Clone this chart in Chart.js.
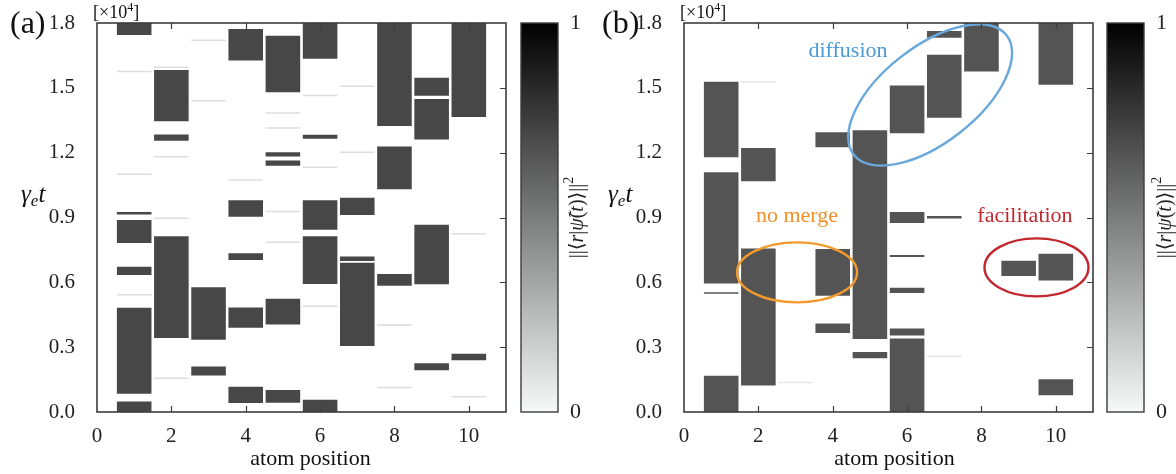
<!DOCTYPE html>
<html>
<head>
<meta charset="utf-8">
<script src="https://cdn.jsdelivr.net/npm/chart.js@4.4.0/dist/chart.umd.min.js"></script>
<style>
  body { margin: 0; background: #fff; width: 1176px; height: 474px; overflow: hidden; position: relative; }
  canvas { position: absolute; top: 0; }
  #chartA { left: 0; }
  #chartB { left: 590px; }
</style>
</head>
<body>
<canvas id="chartA" width="590" height="474"></canvas>
<canvas id="chartB" width="586" height="474"></canvas>
<script>
const ticksY = [0, 0.3, 0.6, 0.9, 1.2, 1.5, 1.8];
const ticksX = [0, 2, 4, 6, 8, 10];

// (a) dark blocks: atom position, start / end of the block in gamma_e t [x10^4]
const posA  = [1,1,1,1,1,1, 2,2,2, 3,3, 4,4,4,4,4, 5,5,5,5,5, 6,6,6,6,6, 7,7,7, 8,8,8, 9,9,9,9, 10,10];
const fromA = [1.745,0.914,0.782,0.634,0.085,0, 1.345,1.255,0.342, 0.334,0.169, 1.626,0.904,0.703,0.390,0.042,
               1.480,1.182,1.139,0.405,0.043, 1.635,1.264,0.843,0.592,0, 0.912,0.699,0.305, 1.323,1.031,0.584,
               1.463,1.261,0.591,0.193, 1.365,0.240];
const toA   = [1.8,0.926,0.889,0.672,0.482,0.049, 1.582,1.284,0.813, 0.577,0.210, 1.772,0.980,0.734,0.484,0.117,
               1.741,1.202,1.164,0.524,0.102, 1.8,1.283,0.980,0.813,0.057, 0.991,0.719,0.691, 1.8,1.229,0.638,
               1.547,1.448,0.867,0.226, 1.8,0.269];
// (a) faint traces
const faintPosA = [1,1,1, 2,2,2,2, 3,3, 4, 5,5,5,5, 6,6,6, 7,7, 8,8, 10,10];
const faintAtA  = [1.100,1.576,0.543, 1.595,1.181,0.897,0.156, 1.720,1.440, 1.073, 0.928,1.383,1.314,0.785,
                   1.465,1.133,0.489, 1.202,1.507, 0.402,0.113, 0.825,0.071];

// (b) dark blocks
const posB  = [1,1,1,1, 2,2, 4,4,4, 5,5, 6,6,6,6,6,6, 7,7,7, 8, 9, 10,10,10];
const fromB = [1.179,0.595,0.547,0, 1.068,0.123, 1.225,0.538,0.365, 0.338,0.249,
               1.290,0.875,0.717,0.551,0.354,0, 1.732,1.361,0.895, 1.576, 0.629, 1.514,0.609,0.077];
const toB   = [1.528,1.109,0.554,0.168, 1.222,0.757, 1.295,0.754,0.409, 1.304,0.278,
               1.511,0.925,0.727,0.575,0.386,0.340, 1.763,1.653,0.907, 1.8, 0.700, 1.8,0.732,0.152];
const faintPosB = [2, 3, 7];
const faintAtB  = [1.527, 0.137, 0.258];

// (b) annotations: label, colour, text anchor and ellipse centre in data units
const notesB = [
  { text: 'diffusion',    color: '#4a9ad4', edge: '#6aa8dc', tx: 4.41, ty: 1.643, ex: 6.62, ey: 1.467, rx: 97, ry: 48, rot: -38 },
  { text: 'no merge',     color: '#f0912a', edge: '#f39a2c', tx: 3.04, ty: 0.877, ex: 3.04, ey: 0.646, rx: 60, ry: 30, rot: 0 },
  { text: 'facilitation', color: '#c0282e', edge: '#c1272d', tx: 9.17, ty: 0.877, ex: 9.48, ey: 0.669, rx: 52, ry: 29, rot: 0 }
];

const SERIF = '"Liberation Serif", "DejaVu Serif", serif';
const faintHalf = 0.0035;

function drawRuns(ctx, x, y, parts) {
  let cx = x;
  parts.forEach(([t, f, dy]) => {
    ctx.font = f;
    ctx.fillText(t, cx, y + (dy || 0));
    cx += ctx.measureText(t).width;
  });
  return cx - x;
}
function runsWidth(ctx, parts) {
  let w = 0;
  parts.forEach(([t, f]) => { ctx.font = f; w += ctx.measureText(t).width; });
  return w;
}

const decor = {
  id: 'decor',
  afterDatasetsDraw(chart, args, o) {
    const { ctx, chartArea: a, scales: { x, y } } = chart;
    ctx.save();

    // annotations
    (o.notes || []).forEach(n => {
      ctx.strokeStyle = n.edge;
      ctx.lineWidth = 2.4;
      ctx.beginPath();
      ctx.ellipse(x.getPixelForValue(n.ex), y.getPixelForValue(n.ey), n.rx, n.ry, n.rot * Math.PI / 180, 0, Math.PI * 2);
      ctx.stroke();
      ctx.fillStyle = n.color;
      ctx.font = '22px ' + SERIF;
      ctx.textAlign = 'center';
      ctx.textBaseline = 'alphabetic';
      ctx.fillText(n.text, x.getPixelForValue(n.tx), y.getPixelForValue(n.ty));
    });

    // frame and inward ticks
    ctx.strokeStyle = '#3c3c3c';
    ctx.lineWidth = 1.6;
    ctx.strokeRect(a.left, a.top, a.right - a.left, a.bottom - a.top);
    ctx.lineWidth = 1.2;
    ctx.beginPath();
    ticksX.forEach(v => {
      if (v === 0) return;
      const px = Math.round(x.getPixelForValue(v)) + 0.5;
      ctx.moveTo(px, a.bottom); ctx.lineTo(px, a.bottom - 6);
      ctx.moveTo(px, a.top); ctx.lineTo(px, a.top + 6);
    });
    ticksY.forEach(v => {
      if (v === 0 || v === 1.8) return;
      const py = Math.round(y.getPixelForValue(v)) + 0.5;
      ctx.moveTo(a.right, py); ctx.lineTo(a.right - 6, py);
    });
    ctx.stroke();

    // colour bar
    const cbL = a.right + o.cbGap, cbW = 37;
    const g = ctx.createLinearGradient(0, a.bottom, 0, a.top);
    g.addColorStop(0, '#f7f8f8');
    g.addColorStop(1, '#000000');
    ctx.fillStyle = g;
    ctx.fillRect(cbL, a.top, cbW, a.bottom - a.top);
    ctx.strokeStyle = '#3c3c3c';
    ctx.lineWidth = 1.4;
    ctx.strokeRect(cbL, a.top, cbW, a.bottom - a.top);
    ctx.fillStyle = '#222';
    ctx.font = '22px ' + SERIF;
    ctx.textAlign = 'left';
    ctx.textBaseline = 'middle';
    ctx.fillText('1', cbL + cbW + 12, a.top);
    ctx.fillText('0', cbL + cbW + 12, a.bottom);

    // rotated colour bar label
    const up = '20px ' + SERIF, it = 'italic 20px ' + SERIF, sm = '14px ' + SERIF;
    const lab = [['||\u27E8', up], ['r', it], ['|', up], ['\u03C8\u0303', it], ['(', up], ['t', it], [')\u27E9||', up], ['2', sm, -9]];
    ctx.save();
    ctx.translate(cbL + cbW + o.labOff, (a.top + a.bottom) / 2);
    ctx.rotate(-Math.PI / 2);
    ctx.textBaseline = 'middle';
    drawRuns(ctx, -runsWidth(ctx, lab) / 2, 0, lab);
    ctx.restore();

    // panel letter, exponent, axis labels
    ctx.fillStyle = '#111';
    ctx.textBaseline = 'alphabetic';
    ctx.textAlign = 'left';
    ctx.font = '32px ' + SERIF;
    ctx.fillText(o.letter, a.left - o.letterOff, 33);
    drawRuns(ctx, a.left - 4, 18, [['[\u00D710', '18px ' + SERIF], ['4', '12px ' + SERIF, -7], [']', '18px ' + SERIF]]);
    drawRuns(ctx, a.left - o.ylabOff, 202, [['\u03B3', 'italic 25px ' + SERIF], ['e', 'italic 17px ' + SERIF, 4], ['t', 'italic 25px ' + SERIF]]);
    ctx.font = '22px ' + SERIF;
    ctx.textAlign = 'center';
    ctx.fillText('atom position', (a.left + a.right) / 2 + o.titleShift, 465);
    ctx.restore();
  }
};

function makeChart(id, pos, from, to, fPos, fAt, barColor, faintColor, pad, extra) {
  const blocks = pos.map((p, i) => ({ x: p, y: [from[i], to[i]] }));
  const traces = fPos.map((p, i) => ({ x: p, y: [fAt[i] - faintHalf, fAt[i] + faintHalf] }));
  return new Chart(document.getElementById(id), {
    type: 'bar',
    data: {
      datasets: [
        { data: traces, backgroundColor: faintColor, barPercentage: 0.93, categoryPercentage: 1, grouped: false },
        { data: blocks, backgroundColor: barColor, barPercentage: 0.93, categoryPercentage: 1, grouped: false }
      ]
    },
    options: {
      responsive: false,
      animation: false,
      layout: { padding: pad },
      plugins: { legend: { display: false }, tooltip: { enabled: false }, decor: extra },
      scales: {
        x: {
          type: 'linear', min: 0, max: 11, offset: false,
          grid: { display: false, offset: false }, border: { display: false },
          afterBuildTicks: s => { s.ticks = ticksX.map(v => ({ value: v })); },
          afterFit: s => { s.height = 62; s.paddingLeft = 0; s.paddingRight = 0; },
          ticks: { color: '#222', padding: 4, font: { family: SERIF, size: 21 } }
        },
        y: {
          min: 0, max: 1.8,
          grid: { display: false }, border: { display: false },
          afterBuildTicks: s => { s.ticks = ticksY.map(v => ({ value: v })); },
          afterFit: s => { s.width = 60; s.paddingTop = 0; s.paddingBottom = 0; },
          ticks: { color: '#222', padding: 14, font: { family: SERIF, size: 21 }, callback: v => v.toFixed(1) }
        }
      }
    },
    plugins: [decor]
  });
}

makeChart('chartA', posA, fromA, toA, faintPosA, faintAtA, '#474747', '#dedede',
  { left: 37, right: 84, top: 23, bottom: 0 },
  { letter: '(a)', letterOff: 87, ylabOff: 76, cbGap: 15, labOff: 20, titleShift: 9 });
makeChart('chartB', posB, fromB, toB, faintPosB, faintAtB, '#545454', '#e6e6e6',
  { left: 34, right: 83, top: 23, bottom: 0 },
  { letter: '(b)', letterOff: 82, ylabOff: 76, cbGap: 14, labOff: 22, titleShift: 6, notes: notesB });
</script>
</body>
</html>
